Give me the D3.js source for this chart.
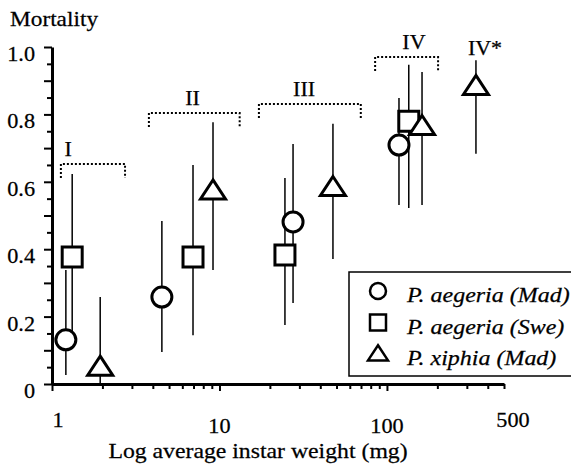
<!DOCTYPE html>
<html>
<head>
<meta charset="utf-8">
<script src="https://cdn.jsdelivr.net/npm/d3@7"></script>
<style>
  body { margin: 0; background: #fff; }
  svg { display: block; }
</style>
</head>
<body>
<div id="chart"></div>
<script>
// chart values
const seriesNames = ['P. aegeria (Mad)', 'P. aegeria (Swe)', 'P. xiphia (Mad)'];

const aegeriaMadWeight = [1.21, 4.53, 27.5, 118];
const aegeriaMadMort   = [0.131, 0.258, 0.481, 0.709];
const aegeriaMadLow    = [0.027, 0.095, 0.240, 0.531];
const aegeriaMadHigh   = [0.338, 0.484, 0.712, 0.849];

const aegeriaSweWeight = [1.32, 6.95, 24.6, 135];
const aegeriaSweMort   = [0.377, 0.377, 0.383, 0.780];
const aegeriaSweLow    = [0.154, 0.145, 0.175, 0.522];
const aegeriaSweHigh   = [0.623, 0.650, 0.611, 0.947];

const xiphiaWeight = [1.94, 9.15, 47.6, 162, 340];
const xiphiaMort   = [0.050, 0.573, 0.583, 0.764, 0.883];
const xiphiaLow    = [0, 0.338, 0.371, 0.531, 0.683];
const xiphiaHigh   = [0.258, 0.777, 0.772, 0.926, 0.961];

// instar groups (weight span of the dotted bracket, mortality level)
const instarLabels = ['I', 'II', 'III', 'IV', 'IV*'];
const instarFrom   = [1.13, 3.79, 17.2, 85, null];
const instarTo     = [2.73, 13.2, 69.8, 202, null];
const instarLevel  = [0.653, 0.804, 0.831, 0.970, 0.952];
const instarLabelAt = [1.25, 6.9, 32, 145, 385];

const yTickLabels = [0, 0.2, 0.4, 0.6, 0.8, 1.0];
const xTickLabels = [1, 10, 100, 500];

const width = 571, height = 464;
const serif = '"Liberation Serif", "Times New Roman", Times, "DejaVu Serif", serif';

const svg = d3.select('#chart').append('svg')
    .attr('width', width)
    .attr('height', height);

const x = d3.scaleLog().domain([1, 500]).range([52, 504]);
const y = d3.scaleLinear().domain([0, 1]).range([384, 47]);

// text with a slight horizontal stretch, like the scanned figure
function addText(g, px, py, str, opts) {
  const o = Object.assign({size: 21, anchor: 'start', sx: 1.06, italic: false}, opts);
  return g.append('g')
      .attr('transform', `translate(${px},${py}) scale(${o.sx},1)`)
    .append('text')
      .attr('text-anchor', o.anchor)
      .attr('fill', '#000')
      .attr('stroke', '#000')
      .attr('stroke-width', 0.25)
      .style('font-family', serif)
      .style('font-size', o.size + 'px')
      .style('font-style', o.italic ? 'italic' : 'normal')
      .text(str);
}

// ---- y axis
const yTicks = d3.range(0, 1.0001, 0.05).map(d => +d.toFixed(2));
const yAxis = d3.axisLeft(y)
    .tickValues(yTicks)
    .tickFormat('')
    .tickSizeOuter(0);
const gy = svg.append('g')
    .attr('transform', 'translate(52,0)')
    .call(yAxis);
gy.select('.domain').attr('stroke-width', 3);
gy.selectAll('.tick line')
    .attr('stroke-width', 2)
    .attr('x2', d => (Math.round(d * 100) % 10 === 0) ? -8 : -5);

yTickLabels.forEach(v => {
  addText(svg, 35, y(v) + 14, v === 0 ? '0' : d3.format('.1f')(v), {anchor: 'end'});
});

// ---- x axis
const xTicks = [];
[1, 10, 100].forEach(dec => d3.range(1, 10).forEach(k => { if (k * dec <= 500) xTicks.push(k * dec); }));
const xAxis = d3.axisBottom(x)
    .tickValues(xTicks)
    .tickFormat('')
    .tickSizeOuter(0);
const gx = svg.append('g')
    .attr('transform', 'translate(0,384)')
    .call(xAxis);
gx.select('.domain').attr('stroke-width', 3);
gx.selectAll('.tick line')
    .attr('stroke-width', 2)
    .attr('y2', d => [1, 10, 100].includes(d) ? 7 : 5);

xTickLabels.forEach((v, i) => {
  const isEnd = (i === 0 || i === xTickLabels.length - 1);
  const dx = i === 0 ? 6 : (i === xTickLabels.length - 1 ? 9 : 0);
  addText(svg, x(v) + dx, isEnd ? 427 : 433, String(v), {anchor: 'middle'});
});

// ---- titles
addText(svg, 10, 26, 'Mortality', {size: 22});
addText(svg, 258, 458, 'Log average instar weight (mg)', {size: 22, anchor: 'middle', sx: 1.08});

// ---- instar brackets
const brackets = svg.append('g').attr('class', 'brackets');
instarLabels.forEach((lab, i) => {
  const ly = y(instarLevel[i]);
  if (instarFrom[i] != null) {
    const x0 = x(instarFrom[i]), x1 = x(instarTo[i]);
    brackets.append('path')
        .attr('d', `M${x0},${ly + 14}V${ly}H${x1}V${ly + 14}`)
        .attr('fill', 'none')
        .attr('stroke', '#000')
        .attr('stroke-width', 2)
        .attr('stroke-dasharray', '2 2');
  }
  addText(brackets, x(instarLabelAt[i]), ly - 8, lab, {size: 22, anchor: 'middle', sx: 1});
});

// ---- series
const series = [
  {name: seriesNames[0], shape: 'circle',   w: aegeriaMadWeight, m: aegeriaMadMort, lo: aegeriaMadLow, hi: aegeriaMadHigh},
  {name: seriesNames[1], shape: 'square',   w: aegeriaSweWeight, m: aegeriaSweMort, lo: aegeriaSweLow, hi: aegeriaSweHigh},
  {name: seriesNames[2], shape: 'triangle', w: xiphiaWeight,     m: xiphiaMort,     lo: xiphiaLow,     hi: xiphiaHigh}
];

function markerPath(shape, s) {
  if (shape === 'circle') {
    const r = 10 * s;
    return `M${-r},0A${r},${r} 0 1,0 ${r},0A${r},${r} 0 1,0 ${-r},0Z`;
  }
  if (shape === 'square') {
    const h = 10 * s;
    return `M${-h},${-h}H${h}V${h}H${-h}Z`;
  }
  const hw = 12.5 * s;
  return `M0,${-11 * s}L${hw},${8 * s}L${-hw},${8 * s}Z`;
}

const bars = svg.append('g').attr('class', 'error-bars');
series.forEach(s => {
  bars.selectAll(null)
    .data(s.w.map((w, i) => ({w, lo: s.lo[i], hi: s.hi[i]})))
    .join('line')
      .attr('x1', d => x(d.w))
      .attr('x2', d => x(d.w))
      .attr('y1', d => y(d.lo))
      .attr('y2', d => y(d.hi))
      .attr('stroke', '#000')
      .attr('stroke-width', 1.5);
});

const marks = svg.append('g').attr('class', 'markers');
series.forEach(s => {
  marks.selectAll(null)
    .data(s.w.map((w, i) => ({w, m: s.m[i]})))
    .join('path')
      .attr('transform', d => `translate(${x(d.w)},${y(d.m)})`)
      .attr('d', markerPath(s.shape, 1))
      .attr('fill', '#fff')
      .attr('stroke', '#000')
      .attr('stroke-width', 3)
      .attr('stroke-linejoin', 'miter');
});

// ---- legend
const legend = svg.append('g').attr('class', 'legend');
legend.append('rect')
    .attr('x', 349)
    .attr('y', 272)
    .attr('width', 240)
    .attr('height', 104)
    .attr('fill', '#fff')
    .attr('stroke', '#000')
    .attr('stroke-width', 1.5);
series.forEach((s, i) => {
  const base = 302 + i * 31.5;
  legend.append('path')
      .attr('transform', `translate(378,${base - 11})`)
      .attr('d', markerPath(s.shape, 0.8))
      .attr('fill', '#fff')
      .attr('stroke', '#000')
      .attr('stroke-width', 2.5);
  addText(legend, 407, base, s.name, {size: 22, italic: true, sx: 1.09});
});
</script>
</body>
</html>
